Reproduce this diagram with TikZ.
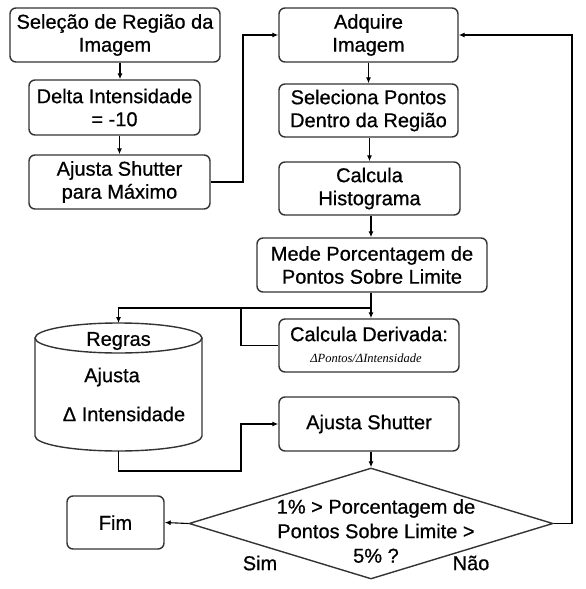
\documentclass[tikz,border=0pt]{standalone}
\usepackage{fontspec}
\setmainfont{Liberation Sans}[FakeBold=0.7]
\newfontfamily\serifit{Liberation Serif}
\usetikzlibrary{arrows.meta,shapes.geometric}
\begin{document}
\begin{tikzpicture}[x=1pt,y=-1pt,
  font=\fontsize{20}{23}\selectfont,
  box/.style={draw=black!80,line width=1.4pt,rounded corners=6pt,align=center,inner sep=0pt},
  conn/.style={draw=black,line width=1.1pt},
  arr/.style={conn,-{Latex[length=6pt,width=5pt]}}]
\useasboundingbox (0,0) rectangle (586,589);
% left column
\node[box,minimum width=210pt,minimum height=54pt] (b1) at (115,35) {Seleção de Região da\\Imagem};
\node[box,minimum width=171pt,minimum height=55pt] (b2) at (114.5,107.5) {Delta Intensidade\\= -10};
\node[box,minimum width=181pt,minimum height=54pt] (b3) at (119.5,182) {Ajusta Shutter\\para Máximo};
% main column
\node[box,minimum width=179pt,minimum height=54pt] (adq) at (368.5,35) {Adquire\\Imagem};
\node[box,minimum width=179pt,minimum height=53pt] (sel) at (368.5,110.5) {Seleciona Pontos\\Dentro da Região};
\node[box,minimum width=181pt,minimum height=53pt] (hist) at (369.5,188.5) {Calcula\\Histograma};
\node[box,minimum width=230pt,minimum height=54pt] (mede) at (372,265) {Mede Porcentagem de\\Pontos Sobre Limite};
\node[box,minimum width=180pt,minimum height=53pt] (der) at (369,345.5) {};
\node (derA) at (369,334) {Calcula Derivada:};
\node (derB) at (366,358) {\serifit\itshape\fontsize{12.5}{14}\selectfont ΔPontos/ΔIntensidade};
\node[box,minimum width=180pt,minimum height=54pt] (ajs) at (369,424) {Ajusta Shutter};
\node[box,minimum width=97pt,minimum height=53pt] (fim) at (115.5,522.5) {Fim};
\node[draw=black!80,line width=1.4pt,shape=diamond,minimum width=364pt,minimum height=111pt,inner sep=0pt] (dec) at (371,523.5) {};
\node[align=center,font=\fontsize{20}{24.5}\selectfont] (dect) at (376,531) {1\% > Porcentagem de\\Pontos Sobre Limite >\\5\% ?};
\node (sim) at (260,563) {Sim};
\node (nao) at (471,563) {Não};
% cylinder (rules)
\coordinate (cyltop) at (118.5,323);
\coordinate (cylbot) at (118.5,451);
\draw[draw=black!80,line width=1.4pt] (35,338) -- (35,436) arc[start angle=180,end angle=0,x radius=83.5,y radius=15] -- (202,338);
\draw[draw=black!80,line width=1.4pt] (118.5,338) ellipse[x radius=83.5,y radius=15];
\node (regras) at (118.5,341) {Regras};
\node (ajusta) at (112,377) {Ajusta};
\node (dint) at (124,414) {Δ Intensidade};
% connectors
\draw[arr] ([xshift=5pt]b1.south) -- ([xshift=5pt]b1.south |- b2.north);
\draw[arr] ([xshift=5pt]b2.south) -- ([xshift=5pt]b2.south |- b3.north);
\coordinate (j1) at (243,182);
\draw[arr] (b3.east) -- (j1) |- (adq.west);
\draw[arr] (adq.south) -- (adq.south |- sel.north);
\draw[arr] ([xshift=1pt]sel.south) -- ([xshift=1pt]sel.south |- hist.north);
\draw[arr] ([xshift=1.5pt]hist.south) -- ([xshift=1.5pt]hist.south |- mede.north);
\coordinate (split) at (371,308);
\coordinate (branch) at (241,308);
\draw[arr] (mede.south -| split) -- (der.north -| split);
\draw[arr] (split) -- (split -| cyltop) -- (cyltop);
\draw[conn] (branch) |- (der.west);
\coordinate (j2) at (118.5,471);
\coordinate (j3) at (241,471);
\draw[arr] (cylbot) -- (j2) -- (j3) |- (ajs.west);
\draw[arr] (ajs.south -| dec.north) -- (dec.north);
\draw[arr] (dec.west) -- (fim.east);
\coordinate (j4) at (572,523.5);
\draw[arr] (dec.east) -- (j4) |- (adq.east);
\end{tikzpicture}
\end{document}
